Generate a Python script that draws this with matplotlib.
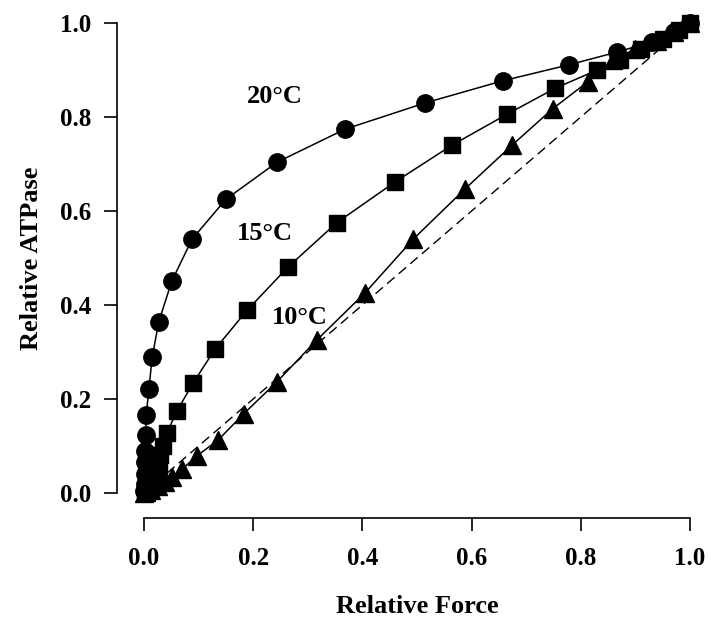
import matplotlib.pyplot as plt

plt.rcParams['font.family'] = ['Liberation Serif', 'DejaVu Serif']

# 20 degC (circles)
force_20 = [0.000, 0.001, 0.001, 0.002, 0.002, 0.003, 0.004, 0.009, 0.015, 0.027, 0.051,
            0.088, 0.150, 0.244, 0.368, 0.515, 0.657, 0.778, 0.866, 0.93, 0.97, 1.0]
atpase_20 = [0.005, 0.02, 0.04, 0.065, 0.09, 0.123, 0.166, 0.221, 0.289, 0.364, 0.451,
             0.540, 0.625, 0.704, 0.774, 0.830, 0.877, 0.911, 0.938, 0.96, 0.98, 1.0]

# 15 degC (squares)
force_15 = [0.002, 0.01, 0.02, 0.027, 0.03, 0.034, 0.042, 0.060, 0.090, 0.130, 0.189, 0.264,
            0.353, 0.46, 0.564, 0.665, 0.753, 0.830, 0.872, 0.91, 0.95, 0.98, 1.0]
atpase_15 = [0.004, 0.015, 0.03, 0.055, 0.08, 0.10, 0.128, 0.174, 0.234, 0.306, 0.389, 0.481,
             0.575, 0.662, 0.74, 0.806, 0.861, 0.90, 0.921, 0.945, 0.965, 0.985, 1.0]

# 10 degC (triangles)
force_10 = [0.0, 0.004, 0.012, 0.025, 0.038, 0.051, 0.070, 0.097, 0.136, 0.183, 0.243, 0.317,
            0.405, 0.493, 0.588, 0.674, 0.749, 0.813, 0.859, 0.90, 0.94, 0.97, 1.0]
atpase_10 = [0.0, 0.003, 0.007, 0.015, 0.023, 0.034, 0.051, 0.079, 0.113, 0.169, 0.236, 0.326,
             0.426, 0.54, 0.647, 0.74, 0.818, 0.875, 0.921, 0.945, 0.962, 0.98, 1.0]

ticks = [0.0, 0.2, 0.4, 0.6, 0.8, 1.0]
tick_labels = ['0.0', '0.2', '0.4', '0.6', '0.8', '1.0']

fig = plt.figure(figsize=(7.11, 6.24), dpi=100)
ax = fig.add_axes([144 / 711, 131 / 624, 546 / 711, 470 / 624])

# proportional line
ax.plot([0, 1], [0, 1], color='black', lw=1.0, ls=(0, (7, 4)), clip_on=False)

ax.plot(force_20, atpase_20, color='black', lw=1.1, marker='o', ms=12.5, clip_on=False)
ax.plot(force_15, atpase_15, color='black', lw=1.1, marker='s', ms=11, clip_on=False)
ax.plot(force_10, atpase_10, color='black', lw=1.1, marker='^', ms=12.5, clip_on=False)

ax.text(0.239, 0.843, '20\u00b0C', fontsize=19, fontweight='bold', ha='center', va='center')
ax.text(0.222, 0.553, '15\u00b0C', fontsize=19, fontweight='bold', ha='center', va='center')
ax.text(0.286, 0.374, '10\u00b0C', fontsize=19, fontweight='bold', ha='center', va='center')

ax.set_xlim(0, 1)
ax.set_ylim(0, 1)
ax.set_xticks(ticks, tick_labels)
ax.set_yticks(ticks, tick_labels)

for side in ['top', 'right']:
    ax.spines[side].set_visible(False)
ax.spines['left'].set_position(('outward', 19.5))
ax.spines['bottom'].set_position(('outward', 18))
ax.spines['left'].set_bounds(0, 1)
ax.spines['bottom'].set_bounds(0, 1)
for side in ['left', 'bottom']:
    ax.spines[side].set_linewidth(1.2)

ax.tick_params(axis='y', direction='out', length=9.5, width=1.2, pad=9, labelsize=18)
ax.tick_params(axis='x', direction='out', length=9, width=1.2, pad=12, labelsize=18)
for lbl in ax.get_xticklabels() + ax.get_yticklabels():
    lbl.set_fontweight('bold')

ax.set_xlabel('Relative Force', fontsize=19, fontweight='bold', labelpad=18)
ax.set_ylabel('Relative ATPase', fontsize=19, fontweight='bold', labelpad=12)

fig.savefig('out.png', dpi=100)
